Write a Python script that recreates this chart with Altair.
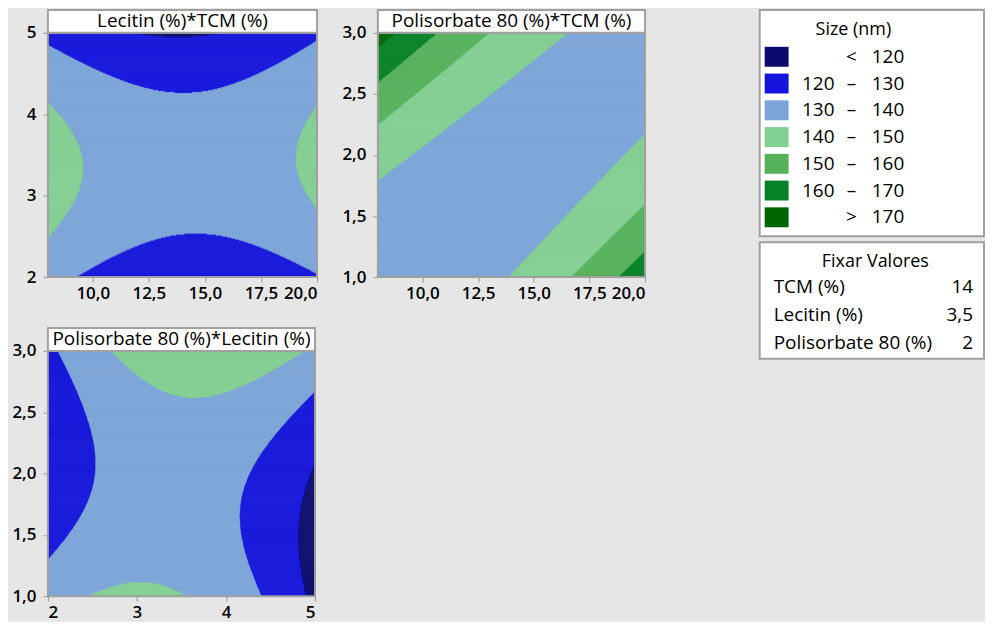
import numpy as np
import pandas as pd
import altair as alt

# ---------------- data ----------------------------------------
FACTORS = ["TCM (%)", "Lecitin (%)", "Polisorbate 80 (%)"]
LOW = [8.0, 2.0, 1.0]
HIGH = [20.0, 5.0, 3.0]
HOLD = [14.0, 3.5, 2.0]
HOLD_TEXT = ["14", "3,5", "2"]

# response surface (coded units) estimated from the contour lines
INTERCEPT = 134.5
LINEAR = [-0.85, -1.83, 3.1]
QUADRATIC = [8.75, -13.59, 9.0]
INTER_TL = 1.4
INTER_TP = -18.4
INTER_LP = 7.2

LEVELS = [120, 130, 140, 150, 160, 170]
BAND_LABELS = ["< 120", "120 – 130", "130 – 140", "140 – 150",
               "150 – 160", "160 – 170", "> 170"]
BAND_LOW = ["", "120", "130", "140", "150", "160", ""]
BAND_SEP = ["<", "–", "–", "–", "–", "–", ">"]
BAND_HIGH = ["120", "130", "140", "150", "160", "170", "170"]
COLORS = ["#0B0B6E", "#1414DC", "#7BA4D8", "#82CF92",
          "#55B15A", "#068226", "#006700"]

PANEL_TITLES = ["Lecitin (%)*TCM (%)", "Polisorbate 80 (%)*TCM (%)",
                "Polisorbate 80 (%)*Lecitin (%)"]
PANEL_X = [0, 0, 1]
PANEL_Y = [1, 2, 2]
X_TICKS = [[10, 12.5, 15, 17.5, 20], [10, 12.5, 15, 17.5, 20], [2, 3, 4, 5]]
Y_TICKS = [[2, 3, 4, 5], [1, 1.5, 2, 2.5, 3], [1, 1.5, 2, 2.5, 3]]
X_DEC = [1, 1, 0]
Y_DEC = [0, 1, 1]

# ---------------- style -----------------
FONT = "Open Sans"
BG = "#E6E6E6"
FRAME = "#A0A0A0"
SIZES = [(270, 245), (268, 245), (268, 246)]


def surface(c):
    t, l, p = c
    return (INTERCEPT + LINEAR[0] * t + LINEAR[1] * l + LINEAR[2] * p
            + QUADRATIC[0] * t * t + QUADRATIC[1] * l * l + QUADRATIC[2] * p * p
            + INTER_TL * t * l + INTER_TP * t * p + INTER_LP * l * p)


def coded(i, v):
    mid = (LOW[i] + HIGH[i]) / 2
    half = (HIGH[i] - LOW[i]) / 2
    return (v - mid) / half


def band_rects(ix, iy, nrows, ncols=700):
    xe = np.linspace(LOW[ix], HIGH[ix], ncols + 1)
    xc = (xe[:-1] + xe[1:]) / 2
    ye = np.linspace(LOW[iy], HIGH[iy], nrows + 1)
    out = []
    for r in range(nrows):
        yc = (ye[r] + ye[r + 1]) / 2
        vals = [np.full_like(xc, coded(k, HOLD[k])) for k in range(3)]
        vals[ix] = coded(ix, xc)
        vals[iy] = np.full_like(xc, coded(iy, yc))
        f = surface(vals)
        cls = np.digitize(f, LEVELS)
        ch = np.nonzero(np.diff(cls))[0]
        starts = np.r_[0, ch + 1]
        ends = np.r_[ch + 1, ncols]
        for s, e in zip(starts, ends):
            out.append(dict(x0=xe[s], x1=xe[e], y0=ye[r], y1=ye[r + 1],
                            band=BAND_LABELS[cls[s]]))
    return pd.DataFrame(out)


def fmt_expr(dec):
    if dec == 0:
        return "format(datum.value, 'd')"
    return "replace(format(datum.value, '.1f'), '.', ',')"


def panel(k):
    w, h = SIZES[k]
    ix, iy = PANEL_X[k], PANEL_Y[k]
    df = band_rects(ix, iy, nrows=h)
    color = alt.Color("band:N", scale=alt.Scale(domain=BAND_LABELS, range=COLORS),
                      legend=None)
    base = alt.Chart(df).mark_rect(strokeWidth=0.6).encode(
        x=alt.X("x0:Q", scale=alt.Scale(domain=[LOW[ix], HIGH[ix]], nice=False, zero=False),
                axis=alt.Axis(values=X_TICKS[k], labelExpr=fmt_expr(X_DEC[k]),
                              labelPadding=3)),
        x2="x1:Q",
        y=alt.Y("y0:Q", scale=alt.Scale(domain=[LOW[iy], HIGH[iy]], nice=False, zero=False),
                axis=alt.Axis(values=Y_TICKS[k], labelExpr=fmt_expr(Y_DEC[k]),
                              labelPadding=7)),
        y2="y1:Q",
        fill=color,
        stroke=color,
    )
    one = pd.DataFrame({"t": [PANEL_TITLES[k]]})
    frame = alt.Chart(one).mark_rect(filled=False, stroke=FRAME, strokeWidth=2).encode(
        x=alt.value(0), x2=alt.value(w), y=alt.value(0), y2=alt.value(h))
    tbox = alt.Chart(one).mark_rect(fill="white", stroke=FRAME, strokeWidth=2).encode(
        x=alt.value(0), x2=alt.value(w), y=alt.value(-23), y2=alt.value(0))
    ttxt = alt.Chart(one).mark_text(font=FONT, fontSize=19, color="black",
                                    baseline="middle").encode(
        x=alt.value(w / 2), y=alt.value(-11.5), text="t:N")
    return alt.layer(base, frame, tbox, ttxt).properties(width=w, height=h)


def legend_panel():
    W, H = 280, 245
    bx0, bx1 = 54, 279
    one = pd.DataFrame({"a": [0]})
    box1 = alt.Chart(one).mark_rect(fill="white", stroke=FRAME, strokeWidth=2).encode(
        x=alt.value(bx0), x2=alt.value(bx1), y=alt.value(-23), y2=alt.value(204))
    box2 = alt.Chart(one).mark_rect(fill="white", stroke=FRAME, strokeWidth=2).encode(
        x=alt.value(bx0), x2=alt.value(bx1), y=alt.value(210), y2=alt.value(327))
    ldf = pd.DataFrame({"i": list(range(len(BAND_LABELS))), "band": BAND_LABELS,
                        "lo": BAND_LOW, "sep": BAND_SEP, "hi": BAND_HIGH})
    yrow = alt.Y("i:Q", scale=alt.Scale(domain=[0, 6], range=[24, 185]), axis=None)
    sw = alt.Chart(ldf).mark_rect(width=24, height=20).encode(
        x=alt.value(bx0 + 17), y=yrow,
        fill=alt.Color("band:N", scale=alt.Scale(domain=BAND_LABELS, range=COLORS),
                       legend=None))
    tstyle = dict(font=FONT, fontSize=19, color="black", baseline="middle")
    lo = alt.Chart(ldf).mark_text(align="right", **tstyle).encode(
        x=alt.value(129), y=yrow, text="lo:N")
    sep = alt.Chart(ldf).mark_text(align="center", **tstyle).encode(
        x=alt.value(146), y=yrow, text="sep:N")
    hi = alt.Chart(ldf).mark_text(align="right", **tstyle).encode(
        x=alt.value(199), y=yrow, text="hi:N")
    ttl = alt.Chart(pd.DataFrame({"t": ["Size (nm)"]})).mark_text(
        font=FONT, fontSize=18, color="black", baseline="middle").encode(
        x=alt.value(148), y=alt.value(-3), text="t:N")
    fdf = pd.DataFrame({"j": [0, 1, 2], "name": FACTORS, "val": HOLD_TEXT})
    yrow2 = alt.Y("j:Q", scale=alt.Scale(domain=[0, 2], range=[255, 311]), axis=None)
    fname = alt.Chart(fdf).mark_text(align="left", font=FONT, fontSize=19,
                                     color="black", baseline="middle").encode(
        x=alt.value(68), y=yrow2, text="name:N")
    fval = alt.Chart(fdf).mark_text(align="right", font=FONT, fontSize=19,
                                    color="black", baseline="middle").encode(
        x=alt.value(268), y=yrow2, text="val:N")
    ttl2 = alt.Chart(pd.DataFrame({"t": ["Fixar Valores"]})).mark_text(
        font=FONT, fontSize=18, color="black", baseline="middle").encode(
        x=alt.value(170), y=alt.value(230), text="t:N")
    return alt.layer(box1, box2, sw, lo, sep, hi, ttl, fname, fval, ttl2).resolve_scale(
        y="independent").properties(width=W, height=H)


p1, p2, p3 = panel(0), panel(1), panel(2)
leg = legend_panel()

chart = alt.concat(p1, p2, leg, p3, columns=3,
                   spacing={"row": 74, "column": 61},
                   bounds="flush", align="each").properties(
    padding={"left": 3, "top": 0, "right": 0, "bottom": 1},
    background=BG,
).configure_view(stroke=None).configure_axis(
    labelFont=FONT, labelFontSize=17, labelFontWeight=600, labelColor="black",
    tickColor="#9A9A9A", tickSize=5, tickWidth=1, domain=False, grid=False,
    title=None,
)

chart.save("out.html", embed_options={"renderer": "svg", "actions": False})
